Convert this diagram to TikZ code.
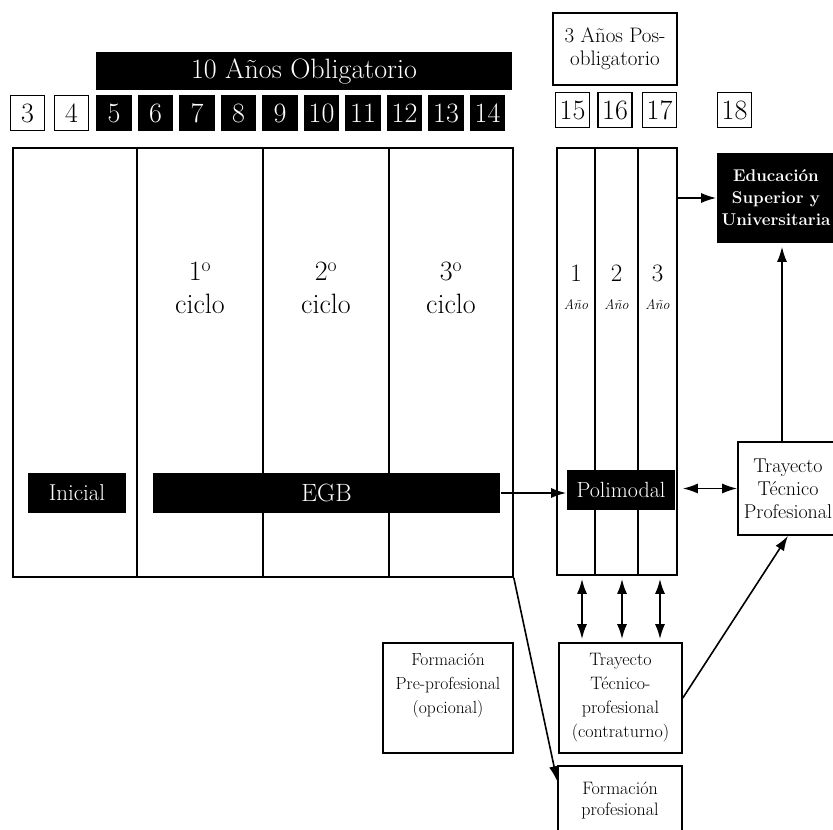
\documentclass[tikz,border=0pt]{standalone}
\usepackage{fontspec}
\usepackage{tikz}
\usetikzlibrary{shapes,arrows,arrows.meta,positioning,calc}

\begin{document}
\begin{tikzpicture}[x=1pt,y=-1pt,line width=1.6pt,
  >={Latex[length=15pt,width=10pt]},
  agebox/.style={draw,fill=white,minimum width=34pt,minimum height=35pt,inner sep=0pt,font=\fontsize{28}{30}\selectfont},
  agedark/.style={agebox,fill=black,text=white},
  blackbar/.style={fill=black,text=white,inner sep=0pt,align=center},
  wbox/.style={draw,fill=white,inner sep=0pt,align=center},
  panel/.style={draw,inner sep=0pt}]
\useasboundingbox (0,0) rectangle (833,830);
\clip (0,0) rectangle (833,830);
% Ages and header
\node[blackbar,minimum width=416pt,minimum height=38pt,font=\fontsize{28}{30}\selectfont] (oblig) at (304,71) {10 Años Obligatorio};
\foreach \a/\cx in {3/27.5,4/71.5}
  \node[agebox] (age\a) at (\cx,113) {\a};
\foreach \a in {5,...,14}
  \node[agedark] (age\a) at ({114+41.5*(\a-5)},113) {\a};
\node[wbox,minimum width=124pt,minimum height=72pt,font=\fontsize{21}{23}\selectfont] (posob) at (615,49) {3 Años Pos-\\obligatorio};
\foreach \a/\cx in {15/572.5,16/615,17/659.5,18/734.5}
  \node[agebox] (age\a) at (\cx,110) {\a};
% Inicial and EGB
\node[panel,minimum width=500pt,minimum height=429pt] (basica) at (263,362.5) {};
\foreach \cx in {137,263,389}
  \draw[line width=2.2pt] (\cx,0 |- basica.north) -- (\cx,0 |- basica.south);
\foreach \cyc/\cx in {1/200,2/326,3/451}
  \node[font=\fontsize{28}{33}\selectfont,align=center] (ciclo\cyc) at (\cx,288) {\cyc\textsuperscript{o}\\ciclo};
\node[blackbar,minimum width=98pt,minimum height=40pt,font=\fontsize{23}{26}\selectfont] (inicial) at (77,493) {Inicial};
\node[blackbar,minimum width=347pt,minimum height=40pt,font=\fontsize{25}{28}\selectfont] (egb) at (326.5,493) {EGB};
% Polimodal
\node[panel,minimum width=120pt,minimum height=427pt] (pmcol) at (617,361.5) {};
\foreach \cx in {595,638}
  \draw (\cx,0 |- pmcol.north) -- (\cx,0 |- pmcol.south);
\foreach \yr/\cx in {1/576,2/616.5,3/657.5} {
  \node[font=\fontsize{25}{27}\selectfont] (yr\yr) at (\cx,273) {\yr};
  \node[font=\fontsize{14}{15}\selectfont\itshape] (ano\yr) at (\cx,305) {Año};
}
\node[blackbar,minimum width=108pt,minimum height=40pt,font=\fontsize{22}{24}\selectfont] (polimodal) at (621,490) {Polimodal};
% Exits
\node[blackbar,minimum width=118pt,minimum height=90pt,font=\fontsize{17}{22}\selectfont\bfseries] (educ) at (776,198) {Educación\\Superior y\\Universitaria};
\node[wbox,minimum width=100pt,minimum height=93pt,font=\fontsize{20}{23}\selectfont] (ttp) at (788,488.5) {Trayecto\\Técnico\\Profesional};
\node[wbox,minimum width=123pt,minimum height=110pt,font=\fontsize{18}{24}\selectfont] (ttc) at (620.5,698) {Trayecto\\Técnico-\\profesional\\(contraturno)};
\node[wbox,minimum width=130pt,minimum height=110pt] (fpp) at (448,698) {};
\node[inner sep=0pt,align=center,font=\fontsize{17.5}{24}\selectfont,below=10pt of fpp.north] (fpptxt) {Formación\\Pre-profesional\\(opcional)};
\node[wbox,minimum width=124pt,minimum height=68pt,font=\fontsize{18}{21}\selectfont] (fprof) at (620,800) {Formación\\profesional};
% Arrows
\coordinate (ttpup) at ($(ttp.north)+(-6,0)$);
\draw[->] (egb.east) -- (polimodal.west |- egb.east);
\draw[->] (educ.west -| pmcol.east) -- (educ.west);
\draw[<->,shorten <=5pt] (ttp.west -| pmcol.east) -- (ttp.west);
\draw[->,shorten >=3pt] (ttpup) -- (ttpup |- educ.south);
\foreach \cx in {582,622,660}
  \draw[<->,line width=2pt,shorten <=3pt,shorten >=3pt] (\cx,0 |- pmcol.south) -- (\cx,0 |- ttc.north);
\draw[->] (ttc.east) -- (ttp.south);
\draw[->] (basica.south east) -- ($(fprof.north west)+(0,16)$);
\end{tikzpicture}
\end{document}
